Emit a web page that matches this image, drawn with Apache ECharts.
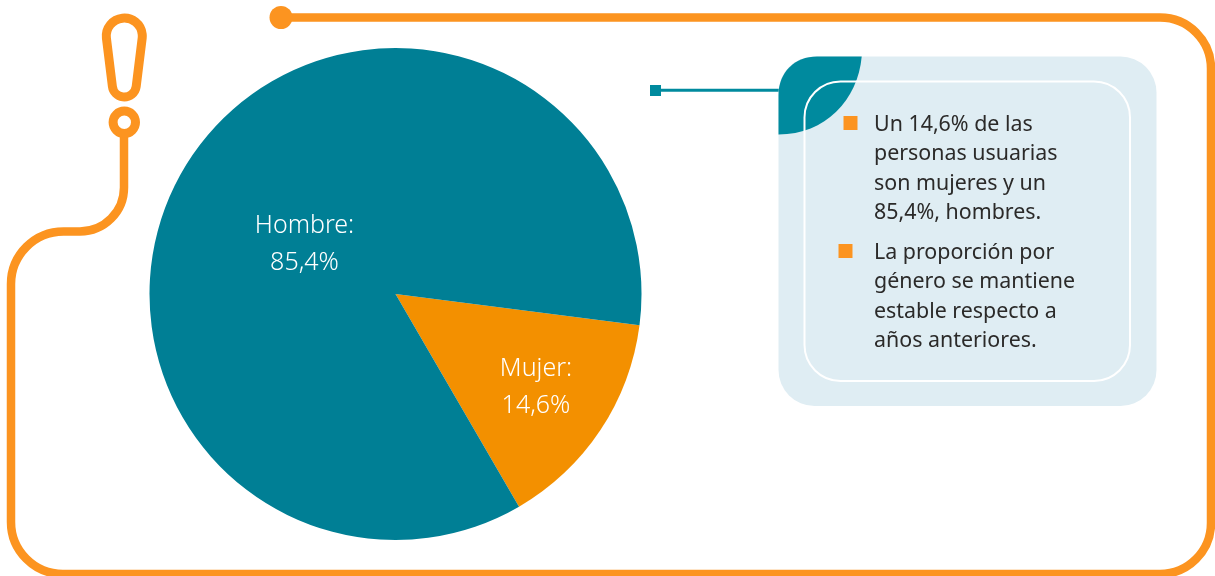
<!DOCTYPE html>
<html>
<head>
<meta charset="utf-8">
<style>
  html, body { margin: 0; padding: 0; background: #fff; }
  #chart { width: 1215px; height: 576px; }
</style>
</head>
<body>
<div id="chart"></div>
<script src="https://cdn.jsdelivr.net/npm/echarts@6/dist/echarts.min.js"></script>
<script>
// datos del gráfico
const categories = ['Mujer', 'Hombre']
const values = [14.6, 85.4]
const sliceColors = ['#F39000', '#007F95']

// texto del recuadro
const bullet1 = ['Un 14,6% de las', 'personas usuarias', 'son mujeres y un', '85,4%, hombres.']
const bullet2 = ['La proporción por', 'género se mantiene', 'estable respecto a', 'años anteriores.']

const ORANGE = '#FC9420'
const TEAL = '#008A9E'
const FONT = '"Noto Sans"'

// formas de la decoración (el componente graphic no acepta pathData directamente)
const registerPath = (name, d) => echarts.graphic.registerShape(name, echarts.graphic.extendPath(d))
registerPath('marco', 'M281 17.5 L1160 17.5 A51 51 0 0 1 1211 68.5 L1211 523 A51 51 0 0 1 1160 574 L63 574 A52 52 0 0 1 11 522 L11 284 A52.5 52.5 0 0 1 63.5 231.5 L80 231.5 A44 44 0 0 0 124 187.5 L124 134')
registerPath('exclamacion', 'M106.4 38 A18 18 0 1 1 142.2 38 L136.2 86.5 A12 12 0 0 1 112.4 86.5 Z')
registerPath('hoja', 'M778.5 134.5 L778.5 95 C778.5 72 795 56.5 817 56.5 L861.7 56.5 C858 100 825 134.5 778.5 134.5 Z')

const chart = echarts.init(document.getElementById('chart'), null, { renderer: 'canvas' })

// lineas de un bloque de texto
const textLines = (lines, top) => lines.map((line, i) => ({
  type: 'text',
  z: 10,
  style: {
    x: 874,
    y: top + i * 29.3,
    text: line,
    fill: '#2B2A29',
    font: '400 21.4px ' + FONT,
    textVerticalAlign: 'middle',
  },
}))

const option = {
  animation: false,
  backgroundColor: '#fff',
  series: [
    {
      type: 'pie',
      center: [395.5, 294],
      radius: [0, 246],
      startAngle: -7.3,
      clockwise: true,
      silent: true,
      data: categories.map((name, i) => ({
        name,
        value: values[i],
        itemStyle: { color: sliceColors[i] },
      })),
      label: {
        position: 'inside',
        color: '#fff',
        fontFamily: FONT,
        fontWeight: 300,
        fontSize: 25,
        lineHeight: 37,
        formatter: (p) => p.name + ':\n' + String(p.value).replace('.', ',') + '%',
      },
      labelLine: { show: false },
      // las etiquetas no van en el centro de cada sector
      labelLayout: (p) => (p.dataIndex === 0 ? { x: 536, y: 387 } : { x: 304.5, y: 244.5 }),
    },
  ],
  graphic: {
    elements: [
      // marco naranja
      { type: 'marco', style: { fill: 'none', stroke: ORANGE, lineWidth: 8.5 } },
      { type: 'circle', shape: { cx: 281, cy: 17.5, r: 11.5 }, style: { fill: ORANGE } },
      // signo de exclamación
      { type: 'exclamacion', style: { fill: 'none', stroke: ORANGE, lineWidth: 9 } },
      { type: 'circle', shape: { cx: 124.3, cy: 122.3, r: 11.2 }, style: { fill: 'none', stroke: ORANGE, lineWidth: 9 } },
      // conector
      { type: 'rect', shape: { x: 650, y: 85, width: 11, height: 11 }, style: { fill: TEAL } },
      { type: 'rect', shape: { x: 660, y: 88.7, width: 120, height: 3 }, style: { fill: TEAL } },
      // recuadro
      { type: 'rect', z: 1, shape: { x: 778.5, y: 56.5, width: 378, height: 349.5, r: 36 }, style: { fill: '#DFEDF3' } },
      { type: 'hoja', z: 2, style: { fill: TEAL } },
      { type: 'rect', z: 3, shape: { x: 804.5, y: 81.5, width: 325.5, height: 299.5, r: 36 }, style: { fill: 'none', stroke: '#fff', lineWidth: 2 } },
      { type: 'rect', z: 4, shape: { x: 843.5, y: 116, width: 14, height: 14 }, style: { fill: ORANGE } },
      { type: 'rect', z: 4, shape: { x: 838.5, y: 244, width: 14, height: 14 }, style: { fill: ORANGE } },
      ...textLines(bullet1, 125),
      ...textLines(bullet2, 253),
    ],
  },
}

chart.setOption(option)
</script>
</body>
</html>
